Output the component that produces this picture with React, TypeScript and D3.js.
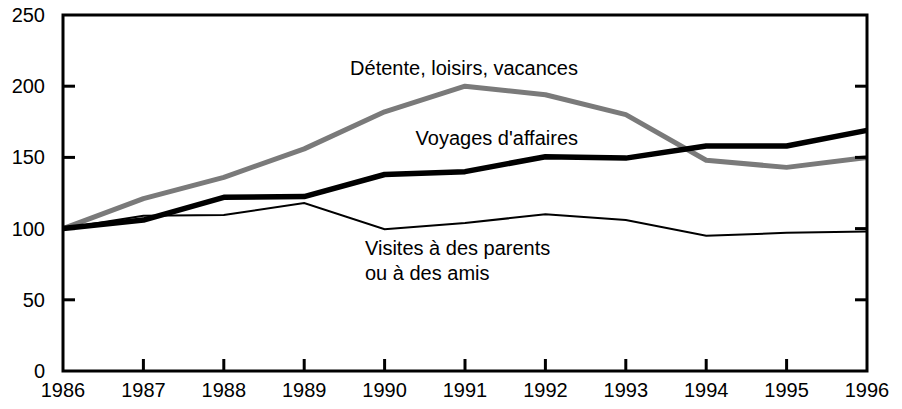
import * as React from "react";
import { scaleLinear, line } from "d3";

const years = [1986, 1987, 1988, 1989, 1990, 1991, 1992, 1993, 1994, 1995, 1996];
const detente = [100, 121, 136, 156, 182, 200, 194, 180, 148, 143, 150];
const affaires = [100, 106, 122, 122.5, 138, 140, 150.5, 149.5, 158, 158, 169];
const visites = [100, 109, 109.5, 118, 99.5, 104, 110, 106, 95, 97, 98];
const yTicks = [0, 50, 100, 150, 200, 250];

const width = 902, height = 409;
const margin = { top: 15, right: 35, bottom: 38, left: 63 };

const App: React.FC = () => {
    const x = scaleLinear().domain([1986, 1996]).range([margin.left, width - margin.right]);
    const y = scaleLinear().domain([0, 250]).range([height - margin.bottom, margin.top]);
    const mk = (vals: number[]) =>
        line<number>().x((_, i) => x(years[i])).y(d => y(d))(vals) || "";

    const font = "'Liberation Sans', Arial, sans-serif";
    const x0 = x(1986), x1 = x(1996), y0 = y(0), y1 = y(250);
    const tick = 12;

    return (
        <svg width={width} height={height} style={{ position: "absolute", left: 0, top: 0, display: "block" }}
             fontFamily={font}>
            <rect x={0} y={0} width={width} height={height} fill="#fff"/>
            {/* series */}
            <path d={mk(visites)} fill="none" stroke="#000" strokeWidth={2}/>
            <path d={mk(detente)} fill="none" stroke="#7a7a7a" strokeWidth={5} strokeLinejoin="round"/>
            <path d={mk(affaires)} fill="none" stroke="#000" strokeWidth={5.5} strokeLinejoin="round"/>
            {/* frame */}
            <rect x={x0} y={y1} width={x1 - x0} height={y0 - y1} fill="none" stroke="#000" strokeWidth={3}/>
            {yTicks.slice(1, -1).map(t => (
                <g key={"yt" + t}>
                    <line x1={x0} x2={x0 + tick} y1={y(t)} y2={y(t)} stroke="#000" strokeWidth={3}/>
                    <line x1={x1} x2={x1 - tick} y1={y(t)} y2={y(t)} stroke="#000" strokeWidth={3}/>
                </g>
            ))}
            {years.slice(1, -1).map(yr => (
                <line key={"xt" + yr} x1={x(yr)} x2={x(yr)} y1={y0} y2={y0 - tick} stroke="#000" strokeWidth={3}/>
            ))}
            {yTicks.map(t => (
                <text key={"yl" + t} x={x0 - 18} y={y(t)} dy="0.35em" textAnchor="end" fontSize={20}>{t}</text>
            ))}
            {years.map(yr => (
                <text key={"xl" + yr} x={x(yr)} y={397} textAnchor="middle" fontSize={20}>{yr}</text>
            ))}
            {/* labels */}
            <text x={578} y={75} textAnchor="end" fontSize={20}>Détente, loisirs, vacances</text>
            <text x={578} y={145} textAnchor="end" fontSize={20}>Voyages d'affaires</text>
            <text x={365} y={255} fontSize={20}>Visites à des parents</text>
            <text x={365} y={280} fontSize={20}>ou à des amis</text>
        </svg>
    );
};

export default App;
